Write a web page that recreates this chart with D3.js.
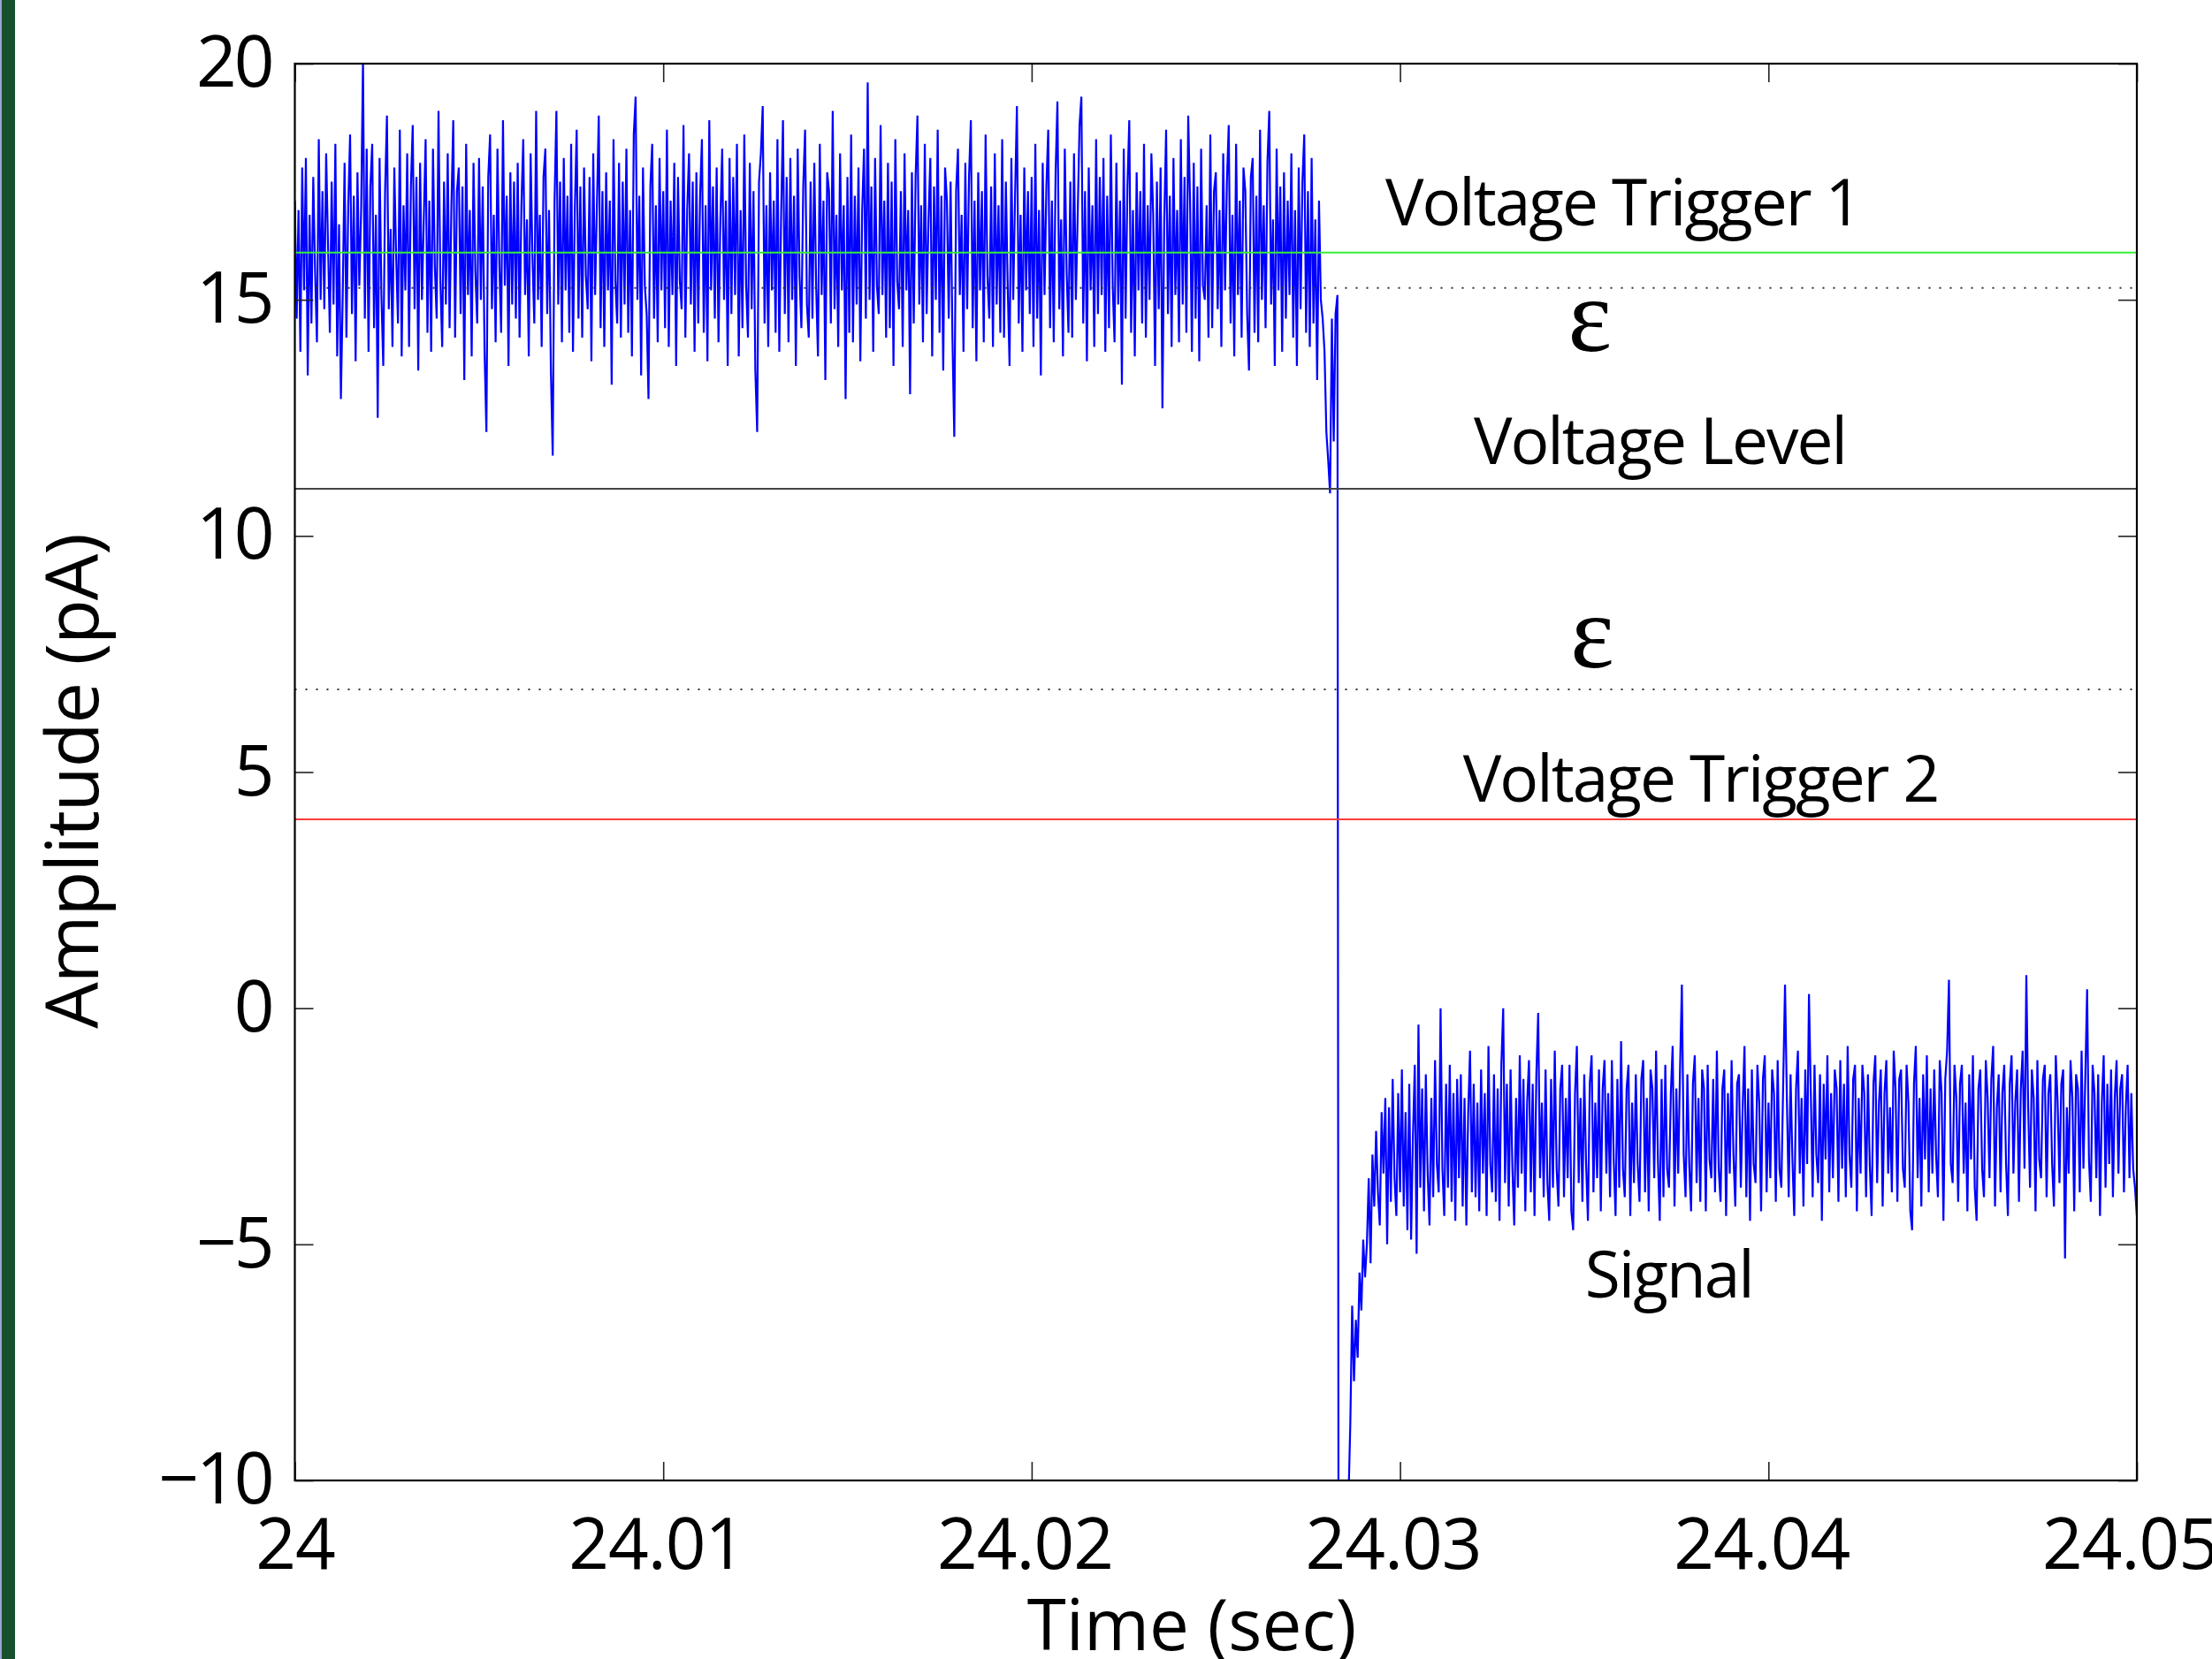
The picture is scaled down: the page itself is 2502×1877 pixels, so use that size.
<!DOCTYPE html>
<html>
<head>
<meta charset="utf-8">
<style>
  body { margin: 0; background: #fff; }
  svg { display: block; }
  text { font-family: "Open Sans", sans-serif; fill: #000; }
</style>
<script src="https://cdn.jsdelivr.net/npm/d3@7"></script>
</head>
<body>
<svg></svg>
<script>
const width = 2502;
const height = 1877;
const margin = { top: 72, right: 85, bottom: 202, left: 333.5 };

const xTicks = [24, 24.01, 24.02, 24.03, 24.04, 24.05];
const xTickLabels = ['24', '24.01', '24.02', '24.03', '24.04', '24.05'];
const yTicks = [-10, -5, 0, 5, 10, 15, 20];
const yTickLabels = ['\u221210', '\u22125', '0', '5', '10', '15', '20'];

// sampled current trace, 20 kHz
const sampleStep = 0.00005;
const openStart = 24.0;
const openLevel = [
  17.1, 14.6, 16.9, 13.9, 17.8, 15.2, 18.0, 13.4, 16.8, 14.5, 17.6, 15.6, 14.1, 18.4, 15.0, 17.3, 14.8, 18.1, 16.2, 14.3,
  17.5, 14.9, 18.3, 13.8, 16.6, 12.9, 15.1, 17.9, 14.2, 17.0, 18.5, 14.7, 17.2, 13.7, 17.7, 15.3, 16.9, 20.1, 14.6, 18.2,
  13.9, 17.4, 18.3, 14.4, 16.8, 12.5, 18.0, 15.1, 13.6, 17.3, 18.9, 14.8, 16.5, 14.0, 17.8, 15.9, 14.5, 18.6, 13.8, 17.0,
  15.2, 18.1, 14.0, 17.4, 18.7, 14.8, 17.6, 13.5, 17.9, 15.0, 16.7, 18.4, 14.3, 17.1, 13.9, 18.2, 15.7, 14.6, 19.0, 15.4,
  14.0, 17.5, 14.9, 18.1, 14.4, 17.0, 18.8, 14.2, 17.3, 17.8, 14.7, 17.4, 13.3, 18.3, 15.1, 16.9, 13.8, 17.9, 15.6, 14.5,
  18.0, 15.0, 17.4, 13.9, 12.2, 17.6, 18.5, 14.8, 16.8, 14.1, 18.2, 15.8, 14.3, 18.8, 15.3, 17.2, 13.6, 17.7, 14.9, 17.5,
  14.6, 17.9, 14.2, 17.0, 18.4, 15.1, 16.7, 13.8, 18.1, 15.9, 14.5, 19.0, 15.0, 16.8, 14.0, 17.6, 18.2, 14.7, 16.9, 13.5,
  11.7, 17.1, 19.0, 14.9, 17.5, 14.1, 18.0, 15.2, 17.2, 14.3, 18.3, 13.9, 16.9, 18.6, 14.6, 17.4, 14.2, 17.8, 15.5, 14.8,
  17.6, 13.7, 18.1, 15.1, 17.0, 18.9, 14.4, 17.3, 14.0, 17.7, 15.2, 17.1, 13.2, 18.4, 15.4, 14.5, 17.9, 14.2, 17.5, 14.9,
  18.2, 14.3, 16.9, 13.8, 18.5, 19.3, 15.0, 17.2, 13.4, 17.8, 15.3, 14.7, 12.9, 17.4, 18.3, 14.6, 17.0, 14.1, 18.0, 15.2,
  17.3, 14.4, 18.6, 14.0, 17.1, 15.1, 17.9, 13.6, 17.6, 15.4, 14.8, 18.7, 14.2, 16.9, 18.1, 14.9, 17.5, 13.9, 17.7, 14.5,
  17.2, 18.4, 14.3, 17.0, 13.7, 18.8, 15.2, 17.4, 14.6, 17.8, 14.1, 16.7, 18.2, 15.0, 17.1, 13.6, 18.0, 14.7, 17.6, 15.1,
  18.3, 13.8, 16.9, 14.4, 18.5, 15.3, 14.2, 17.9, 14.8, 17.3, 13.5, 12.2, 17.5, 18.1, 19.1, 14.5, 17.0, 14.0, 17.7, 15.2,
  17.1, 14.3, 18.4, 13.9, 16.8, 18.8, 14.7, 17.6, 14.1, 18.0, 15.0, 17.2, 13.6, 18.2, 15.5, 14.4, 17.4, 18.6, 14.9, 14.2,
  17.5, 14.6, 17.9, 15.3, 13.8, 18.3, 15.1, 17.1, 13.3, 17.7, 17.3, 14.5, 19.0, 14.8, 16.8, 14.0, 18.1, 15.2, 17.0, 12.9,
  17.6, 14.3, 18.5, 14.1, 17.2, 14.9, 17.8, 13.7, 16.9, 18.2, 14.6, 19.6, 15.0, 17.4, 13.9, 18.0, 15.3, 14.7, 18.7, 15.1,
  17.1, 14.2, 17.9, 14.4, 17.5, 13.6, 18.4, 15.4, 14.8, 17.3, 14.0, 18.1, 15.2, 16.9, 13.0, 17.7, 14.5, 17.6, 18.9, 14.9,
  17.0, 14.1, 18.3, 14.7, 16.7, 18.0, 13.8, 17.4, 15.0, 18.6, 14.3, 17.2, 13.5, 17.8, 17.1, 14.6, 17.5, 14.2, 12.1, 17.3,
  18.2, 15.1, 16.8, 13.9, 17.9, 14.8, 17.6, 18.8, 14.4, 17.1, 13.7, 17.7, 15.2, 17.3, 14.1, 18.5, 15.5, 14.6, 17.4, 14.0,
  18.1, 14.9, 17.0, 14.3, 18.4, 14.2, 17.5, 15.3, 13.6, 18.0, 15.0, 17.2, 19.1, 14.5, 16.8, 13.9, 17.8, 15.2, 17.3, 14.7,
  17.6, 14.0, 18.3, 14.6, 16.9, 13.4, 17.9, 15.1, 17.4, 18.6, 14.4, 17.1, 14.1, 17.7, 19.2, 14.8, 16.7, 13.8, 18.2, 15.6,
  14.3, 17.5, 14.2, 18.1, 15.0, 16.8, 18.7, 19.3, 14.5, 17.3, 13.7, 17.8, 15.2, 17.0, 14.0, 18.4, 14.7, 17.6, 15.1, 18.0,
  13.9, 17.2, 14.4, 18.5, 15.3, 14.1, 17.9, 14.9, 17.1, 13.2, 18.2, 14.6, 17.4, 18.8, 14.3, 16.9, 13.8, 17.7, 15.2, 17.3,
  14.5, 18.3, 14.2, 17.0, 15.0, 18.1, 16.8, 13.6, 17.5, 14.8, 17.8, 12.7, 16.7, 18.6, 14.7, 17.2, 14.0, 18.0, 15.1, 16.9,
  14.1, 18.4, 14.9, 17.6, 14.3, 18.9, 17.1, 13.9, 17.9, 14.6, 17.4, 13.7, 18.2, 15.3, 15.0, 17.0, 14.2, 18.5, 14.4, 17.3,
  17.7, 14.8, 16.9, 14.0, 18.1, 15.2, 17.5, 18.7, 14.5, 16.8, 13.8, 18.3, 15.1, 17.1, 14.2, 17.8, 17.3, 14.7, 13.5, 17.6,
  18.0, 14.3, 17.2, 14.1, 18.6, 15.0, 17.0, 14.4, 17.9, 19.0, 14.9, 16.7, 13.6, 18.2, 15.2, 17.4, 13.9, 17.7, 14.6, 17.1,
  15.1, 18.1, 14.2, 16.9, 13.6, 17.8, 14.8, 17.5, 18.5, 14.3, 17.3, 14.0, 18.0, 14.5, 16.7, 13.3, 17.1, 15.0, 14.6
];
const dropStart = 24.02795;
const dropValues = [13.9, 12.2, 11.6, 10.9, 14.6, 12.0, 14.7, 15.1, -30, -32, -31, -29, -28];
const closedStart = 24.0286;
const closedLevel = [
  -10.4, -8.8, -6.3, -7.9, -6.6, -7.4, -5.6, -6.4, -4.9, -5.7, -5.0, -3.6, -5.4, -3.1, -4.2, -2.6, -3.9, -4.6, -2.2, -3.5,
  -1.9, -5.0, -2.1, -4.1, -1.5, -3.6, -4.4, -1.8, -3.9, -1.3, -4.2, -2.2, -4.7, -1.6, -4.9, -2.7, -1.2, -5.2, -0.35, -3.8,
  -1.7, -4.3, -1.4, -3.5, -4.6, -1.9, -4.0, -1.1, -3.3, -3.9, 0.0, -3.4, -4.4, -1.6, -3.8, -1.2, -4.1, -1.8, -4.5, -1.5,
  -3.6, -1.4, -4.2, -1.9, -4.6, -2.2, -0.9, -3.9, -1.6, -4.0, -2.0, -4.3, -1.3, -3.5, -1.8, -4.4, -0.8, -3.3, -3.9, -1.4,
  -4.1, -1.7, -4.5, -1.2, 0.0, -3.7, -1.6, -4.2, -1.3, -3.4, -4.6, -1.9, -3.8, -1.0, -3.5, -1.5, -4.3, -2.0, -1.1, -3.9,
  -1.6, -4.4, -1.4, -0.1, -3.6, -2.0, -4.0, -1.3, -3.7, -4.5, -1.5, -3.8, -0.9, -3.4, -4.2, -1.7, -1.2, -4.0, -1.9, -3.6,
  -1.2, -4.3, -4.7, -1.8, -0.8, -3.7, -1.9, -4.1, -1.4, -3.3, -4.5, -1.6, -1.0, -3.9, -2.0, -3.6, -1.3, -4.3, -1.7, -1.1,
  -3.5, -1.8, -4.0, -1.1, -3.2, -4.4, -1.5, -3.8, -0.7, -3.4, -4.0, -1.7, -1.2, -4.4, -2.0, -3.7, -1.4, -3.3, -4.1, -1.5,
  -1.1, -3.9, -1.9, -4.3, -1.3, -1.7, -3.6, -0.9, -3.2, -4.5, -1.5, -4.0, -1.2, -3.4, -3.8, -1.8, -0.8, -4.2, -1.7, -3.5,
  -1.3, 0.5, -3.1, -4.0, -1.4, -3.3, -4.3, -1.6, -1.0, -3.7, -1.9, -4.1, -1.3, -1.7, -4.3, -1.2, -3.2, -3.6, -1.5, -3.9,
  -0.9, -3.4, -4.1, -1.7, -1.3, -4.4, -1.8, -3.5, -1.1, -3.1, -4.2, -1.6, -1.4, -3.8, -2.1, -0.8, -4.0, -1.7, -4.5, -1.3,
  -3.3, -3.7, -1.2, -2.0, -4.3, -1.5, -1.0, -3.9, -2.0, -3.6, -1.3, -1.8, -4.1, -1.1, -3.4, -3.8, -1.6, 0.5, -1.9, -4.0,
  -1.4, -3.2, -4.4, -1.7, -0.9, -3.5, -1.9, -4.2, -1.3, -3.3, 0.3, -1.8, -4.0, -1.2, -3.1, -3.7, -1.4, -4.5, -1.6, -3.2,
  -1.0, -3.9, -1.8, -3.6, -1.3, -1.7, -4.1, -1.1, -3.4, -1.6, -4.0, -0.8, -3.1, -3.8, -1.5, -1.2, -4.3, -1.9, -3.5, -1.2,
  -1.8, -4.0, -1.4, -3.3, -4.4, -1.6, -1.0, -3.7, -2.0, -1.3, -4.2, -1.8, -1.1, -3.5, -2.1, -3.9, -0.9, -1.7, -4.1, -1.5,
  -1.3, -3.4, -3.8, -1.2, -2.0, -4.3, -4.7, -1.6, -0.8, -3.6, -1.9, -4.2, -1.4, -3.2, -1.0, -3.9, -1.7, -3.5, -1.3, -3.1,
  -4.0, -1.1, -1.8, -4.5, -1.5, -0.9, 0.6, -3.3, -3.7, -1.2, -1.9, -4.1, -1.6, -1.2, -3.5, -2.0, -4.3, -1.4, -3.2, -1.0,
  -3.8, -4.5, -1.7, -1.3, -3.4, -4.0, -1.1, -1.9, -3.6, -1.5, -0.8, -4.2, -2.1, -1.4, -3.9, -1.8, -1.2, -3.3, -4.4, -1.6,
  -1.0, -3.5, -2.0, -1.3, -4.1, -1.7, -0.9, -3.4, 0.7, -2.1, -3.8, -1.3, -1.9, -4.3, -1.1, -3.2, -3.6, -1.5, -1.2, -4.0,
  -1.8, -1.4, -3.3, -4.2, -1.0, -2.0, -3.7, -1.6, -1.3, -5.3, -2.1, -3.5, -1.1, -1.9, -4.3, -1.4, -1.7, -3.9, -0.9, -3.4,
  -1.5, 0.4, -3.2, -4.1, -1.2, -1.8, -3.6, -1.4, -4.4, -2.0, -1.0, -3.8, -1.6, -3.3, -1.3, -4.0, -1.9, -1.1, -3.5, -1.7,
  -1.4, -3.9, -2.1, -1.2, -3.6, -1.8, -3.4, -3.8, -4.4
];

// threshold levels (pA)
const triggerHigh = 16;
const epsilonHigh = 15.25;
const voltageLevel = 11;
const epsilonLow = 6.75;
const triggerLow = 4;

const labels = ['Voltage Trigger 1', '\u03b5', 'Voltage Level', '\u03b5', 'Voltage Trigger 2', 'Signal'];

const toPoints = (start, values) => values.map((v, i) => ({ t: start + i * sampleStep, v: v }));
const signal = toPoints(openStart, openLevel)
  .concat(toPoints(dropStart, dropValues))
  .concat(toPoints(closedStart, closedLevel));

const svg = d3.select('svg')
    .attr('width', width)
    .attr('height', height);

// left page strip
svg.append('rect').attr('x', 0).attr('y', 0).attr('width', 17).attr('height', height).attr('fill', '#17502f');
svg.append('rect').attr('x', 0).attr('y', 0).attr('width', 2).attr('height', height).attr('fill', '#9aa6d6');

const x = d3.scaleLinear()
    .domain([24, 24.05])
    .range([margin.left, width - margin.right]);
const y = d3.scaleLinear()
    .domain([-10, 20])
    .range([height - margin.bottom, margin.top]);

svg.append('clipPath')
    .attr('id', 'plot')
  .append('rect')
    .attr('x', margin.left)
    .attr('y', margin.top)
    .attr('width', x.range()[1] - x.range()[0])
    .attr('height', y.range()[0] - y.range()[1]);

const line = d3.line()
    .x(d => x(d.t))
    .y(d => y(d.v));

svg.append('path')
    .datum(signal)
    .attr('clip-path', 'url(#plot)')
    .attr('d', line)
    .attr('fill', 'none')
    .attr('stroke', '#0000ff')
    .attr('stroke-width', 2.2)
    .attr('stroke-linejoin', 'miter');

// horizontal levels
const levels = [
  { v: triggerHigh, color: '#33ee33', dash: null, w: 2 },
  { v: epsilonHigh, color: '#333', dash: '2,10', w: 2 },
  { v: voltageLevel, color: '#444', dash: null, w: 2 },
  { v: epsilonLow, color: '#333', dash: '2,10', w: 2 },
  { v: triggerLow, color: '#ff3b3b', dash: null, w: 2 }
];
svg.selectAll('.level')
    .data(levels)
    .enter()
    .append('line')
        .classed('level', true)
        .attr('x1', x(24))
        .attr('x2', x(24.05))
        .attr('y1', d => y(d.v))
        .attr('y2', d => y(d.v))
        .attr('stroke', d => d.color)
        .attr('stroke-width', d => d.w)
        .attr('stroke-dasharray', d => d.dash);

// axes with inward ticks on all four sides
const tickLen = 21;
const styleAxis = g => {
  g.select('.domain').remove();
  g.selectAll('.tick line').attr('stroke', '#222').attr('stroke-width', 1.6);
  g.selectAll('.tick text')
      .attr('fill', '#000')
      .style('font-family', '"Open Sans", sans-serif')
      .style('font-size', '80px')
      .style('letter-spacing', '-3px');
};

svg.append('g')
    .attr('transform', 'translate(0,' + y(-10) + ')')
    .call(d3.axisBottom(x).tickValues(xTicks).tickFormat((d, i) => xTickLabels[i]).tickSizeInner(-tickLen).tickSizeOuter(0).tickPadding(43))
    .call(styleAxis)
    .call(g => g.selectAll('.tick text')
        .attr('dy', '0.71em')
        .attr('dx', (d, i) => i === 0 ? 0 : -8)
        .style('letter-spacing', '-1px'));

svg.append('g')
    .attr('transform', 'translate(0,' + y(20) + ')')
    .call(d3.axisTop(x).tickValues(xTicks).tickFormat('').tickSizeInner(-tickLen).tickSizeOuter(0))
    .call(styleAxis);

svg.append('g')
    .attr('transform', 'translate(' + x(24) + ',0)')
    .call(d3.axisLeft(y).tickValues(yTicks).tickFormat((d, i) => yTickLabels[i]).tickSizeInner(-tickLen).tickSizeOuter(0).tickPadding(26))
    .call(styleAxis);

svg.append('g')
    .attr('transform', 'translate(' + x(24.05) + ',0)')
    .call(d3.axisRight(y).tickValues(yTicks).tickFormat('').tickSizeInner(-tickLen).tickSizeOuter(0))
    .call(styleAxis);

// frame
svg.append('rect')
    .attr('x', x(24))
    .attr('y', y(20))
    .attr('width', x(24.05) - x(24))
    .attr('height', y(-10) - y(20))
    .attr('fill', 'none')
    .attr('stroke', '#000')
    .attr('stroke-width', 2.2);

// annotations
const note = (txt, px, py, opts) => {
  const t = svg.append('text')
      .text(txt)
      .attr('x', px)
      .attr('y', py)
      .style('font-size', '73px')
      .style('letter-spacing', '-2px');
  if (opts && opts.serif) {
    t.style('font-family', '"Liberation Serif", serif')
     .style('font-size', '118px')
     .style('letter-spacing', '0px')
     .attr('text-anchor', 'middle');
  }
  return t;
};
note(labels[0], x(24.0296), y(16.575));
note(labels[1], x(24.03515), y(13.92), { serif: true });
note(labels[2], x(24.0320), y(11.52));
note(labels[3], x(24.03522), y(7.22), { serif: true });
note(labels[4], x(24.03171), y(4.37));
note(labels[5], x(24.03502), y(-6.13));

// axis titles
svg.append('text')
    .text('Time (sec)')
    .attr('x', 1348)
    .attr('y', 1867)
    .attr('text-anchor', 'middle')
    .style('font-size', '80px');

svg.append('text')
    .text('Amplitude (pA)')
    .attr('transform', 'translate(111,884) rotate(-90)')
    .attr('text-anchor', 'middle')
    .style('font-size', '83px')
    .style('letter-spacing', '-1px');
</script>
</body>
</html>
